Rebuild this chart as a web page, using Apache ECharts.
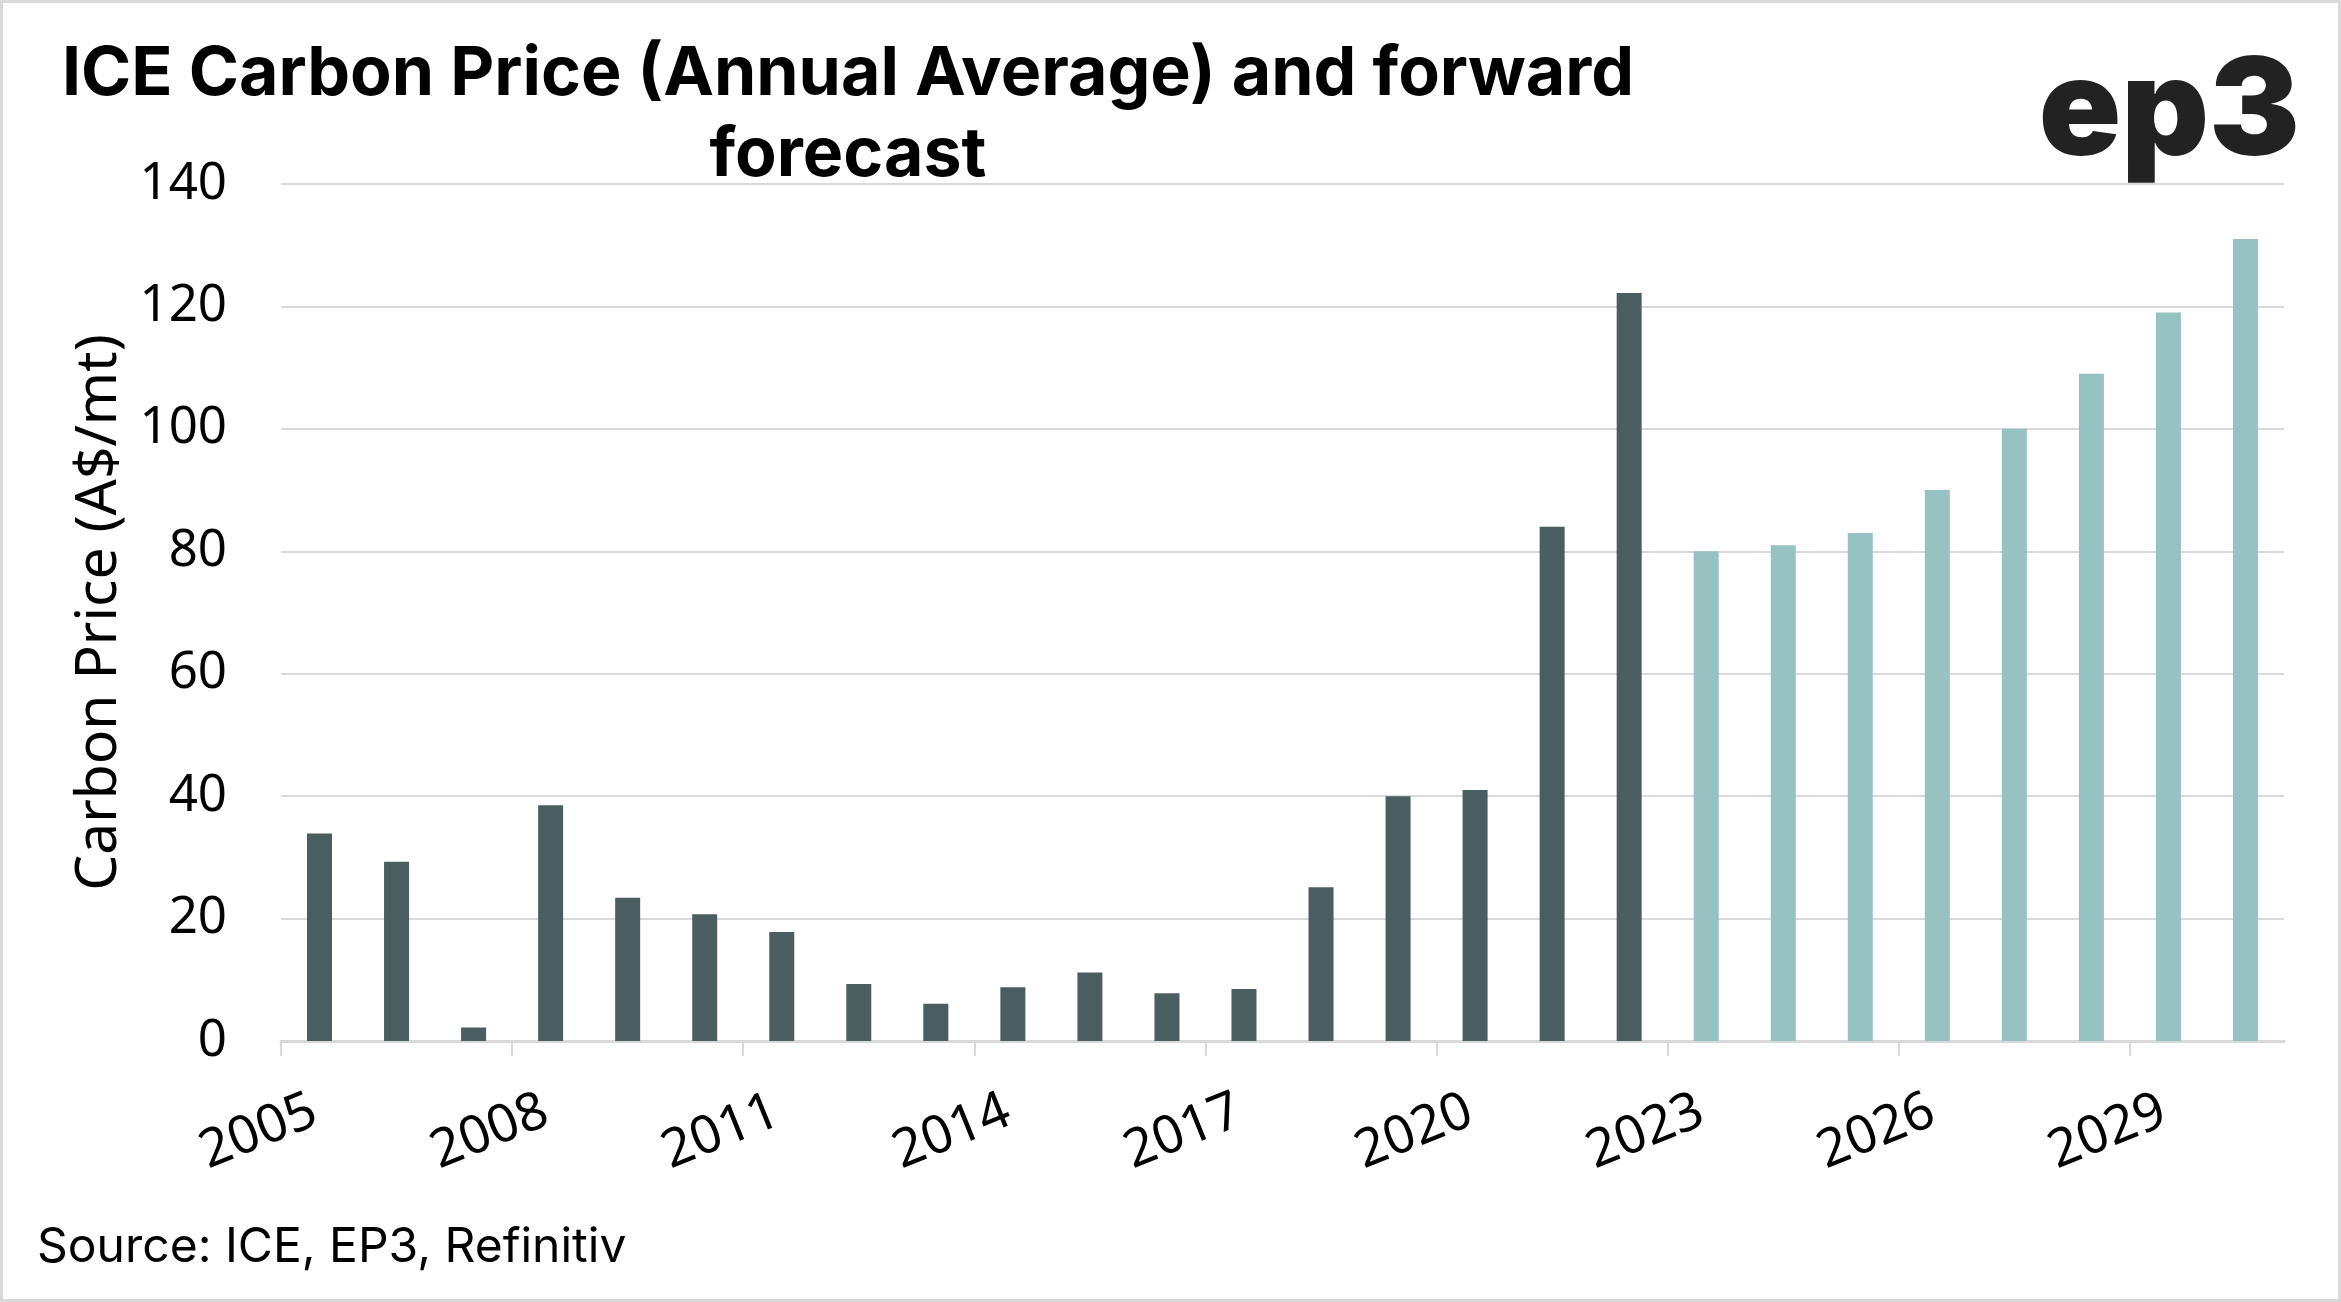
<!DOCTYPE html>
<html>
<head>
<meta charset="utf-8">
<script src="https://cdn.jsdelivr.net/npm/echarts@6/dist/echarts.min.js"></script>
<style>
html,body{margin:0;padding:0;background:#fff;}
#chart{width:2341px;height:1302px;}
</style>
</head>
<body>
<div id="chart"></div>
<script>
// ---- data ----
const histYears = [2005,2006,2007,2008,2009,2010,2011,2012,2013,2014,2015,2016,2017,2018,2019,2020,2021,2022];
const histValues = [33.9,29.3,2.2,38.5,23.4,20.7,17.8,9.3,6.1,8.8,11.2,7.8,8.5,25.1,40.0,41.0,84.0,122.2];
const forecastYears = [2023,2024,2025,2026,2027,2028,2029,2030];
const forecastValues = [80,81,83,90,100,109,119,131];
const xTickLabels = [2005,2008,2011,2014,2017,2020,2023,2026,2029];
const yTicks = [0,20,40,60,80,100,120,140];

const titleText = 'ICE Carbon Price (Annual Average) and forward\nforecast';
const yAxisName = 'Carbon Price (A$/mt)';
const sourceText = 'Source: ICE, EP3, Refinitiv';
const logoText = 'ep3';

// annual averages plotted at mid-year on a date-like value axis
const toPoints = (years, vals) => years.map((y, i) => [y + 0.5, vals[i]]);

const chart = echarts.init(document.getElementById('chart'), null, {renderer: 'canvas'});
const gray = '#d9d9d9';
const option = {
  backgroundColor: '#ffffff',
  animation: false,
  grid: {left: 281, right: 57, top: 184, bottom: 261, containLabel: false},
  xAxis: {
    type: 'value',
    min: xTickLabels[0],
    max: 2031,
    splitLine: {show: false},
    axisLine: {show: true, lineStyle: {color: gray, width: 3}},
    axisTick: {show: true, customValues: xTickLabels, length: 15, lineStyle: {color: gray, width: 2}},
    axisLabel: {
      customValues: xTickLabels,
      formatter: v => String(Math.round(v)),
      rotate: 22,
      align: 'center',
      verticalAlign: 'middle',
      margin: 82,
      padding: [0, 48, 0, 0],
      fontFamily: 'Noto Sans',
      fontSize: 53,
      color: '#000'
    }
  },
  yAxis: {
    type: 'value',
    min: yTicks[0],
    max: yTicks[yTicks.length - 1],
    interval: 20,
    name: yAxisName,
    nameLocation: 'middle',
    nameRotate: 90,
    nameGap: 150,
    nameTextStyle: {fontFamily: 'Noto Sans', fontSize: 57, color: '#000'},
    axisLine: {show: false},
    axisTick: {show: false},
    splitLine: {show: true, lineStyle: {color: gray, width: 2}},
    axisLabel: {margin: 54, fontFamily: 'Noto Sans', fontSize: 51, color: '#000'}
  },
  series: [
    {
      name: 'Historic',
      type: 'bar',
      barWidth: 25,
      barGap: '-100%',
      itemStyle: {color: '#4a5e60'},
      data: toPoints(histYears, histValues),
      z: 3
    },
    {
      name: 'Forecast',
      type: 'bar',
      barWidth: 25,
      barGap: '-100%',
      itemStyle: {color: '#96c3c1'},
      data: toPoints(forecastYears, forecastValues),
      z: 3
    }
  ],
  graphic: [
    {
      type: 'rect', silent: true, z: 100,
      shape: {x: 1.5, y: 1.5, width: 2338, height: 1299},
      style: {fill: 'none', stroke: gray, lineWidth: 3}
    },
    {
      type: 'text', x: 848, y: 34, z: 10,
      style: {
        text: titleText, textAlign: 'center', textVerticalAlign: 'top',
        fontFamily: 'Inter', fontWeight: 'bold', fontSize: 68, lineHeight: 81, fill: '#000'
      }
    },
    {
      type: 'text', x: 2300, y: 46, z: 10,
      style: {
        text: logoText, textAlign: 'right', textVerticalAlign: 'top',
        fontFamily: 'Inter', fontWeight: 900, fontSize: 136, fill: '#222'
      }
    },
    {
      type: 'text', x: 37, y: 1248, z: 10,
      style: {
        text: sourceText, textAlign: 'left', textVerticalAlign: 'middle',
        fontFamily: 'Inter', fontSize: 48, fill: '#000'
      }
    }
  ]
};
chart.setOption(option);
</script>
</body>
</html>
